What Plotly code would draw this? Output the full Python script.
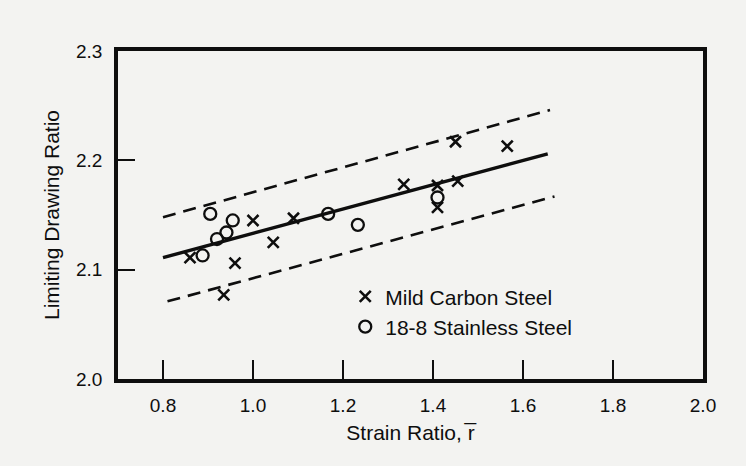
import plotly.graph_objects as go

# Mild carbon steel (X markers)
carbon_r = [0.86, 0.935, 0.96, 1.0, 1.045, 1.09, 1.335, 1.41, 1.41, 1.45, 1.455, 1.565]
carbon_ldr = [2.111, 2.077, 2.106, 2.145, 2.125, 2.147, 2.178, 2.177, 2.157, 2.217, 2.181, 2.213]

# 18-8 stainless steel (O markers)
stainless_r = [0.888, 0.905, 0.92, 0.941, 0.955, 1.167, 1.233, 1.41]
stainless_ldr = [2.113, 2.151, 2.128, 2.134, 2.145, 2.151, 2.141, 2.166]

# Trend line and scatter band
fit_r = [0.80, 1.655]
fit_ldr = [2.111, 2.206]
upper_r = [0.80, 1.66]
upper_ldr = [2.148, 2.246]
lower_r = [0.81, 1.67]
lower_ldr = [2.071, 2.167]

x_ticks = [0.8, 1.0, 1.2, 1.4, 1.6, 1.8, 2.0]
x_tick_text = ["0.8", "1.0", "1.2", "1.4", "1.6", "1.8", "2.0"]
y_ticks = [2.0, 2.1, 2.2, 2.3]
y_tick_text = ["2.0", "2.1", "2.2", "2.3"]

INK = "#0e0e0e"
BG = "#f3f3f1"
FONT = "Liberation Sans, Arial, Helvetica, sans-serif"

fig = go.Figure()

fig.add_trace(go.Scatter(x=upper_r, y=upper_ldr, mode="lines", showlegend=False,
                         line=dict(color=INK, width=2.6, dash="13px,8px"), hoverinfo="skip"))
fig.add_trace(go.Scatter(x=lower_r, y=lower_ldr, mode="lines", showlegend=False,
                         line=dict(color=INK, width=2.6, dash="13px,8px"), hoverinfo="skip"))
fig.add_trace(go.Scatter(x=fit_r, y=fit_ldr, mode="lines", showlegend=False,
                         line=dict(color=INK, width=3.4), hoverinfo="skip"))

fig.add_trace(go.Scatter(x=carbon_r, y=carbon_ldr, mode="markers", name="Mild Carbon Steel",
                         marker=dict(symbol="x-thin", size=11, color=INK,
                                     line=dict(color=INK, width=2.6))))
fig.add_trace(go.Scatter(x=stainless_r, y=stainless_ldr, mode="markers", name="18-8 Stainless Steel",
                         marker=dict(symbol="circle-open", size=12, color=INK,
                                     line=dict(color=INK, width=2.3))))

axis_common = dict(
    showline=True, linecolor=INK, linewidth=3.5, mirror=True,
    showgrid=False, zeroline=False,
    ticks="inside", tickcolor=INK, tickwidth=2,
    tickfont=dict(family=FONT, size=19, color=INK),
)

fig.update_layout(
    width=746, height=466,
    margin=dict(l=118, r=43, t=51, b=87),
    paper_bgcolor=BG, plot_bgcolor=BG,
    font=dict(family=FONT, color=INK),
    xaxis=dict(range=[0.7, 2.0], tickvals=x_ticks, ticktext=x_tick_text, ticklen=19,
               ticklabelstandoff=6,
               title=dict(text="Strain Ratio, r\u0305", font=dict(family=FONT, size=21, color=INK),
                          standoff=12),
               **axis_common),
    yaxis=dict(range=[2.0, 2.3], tickvals=y_ticks, ticktext=y_tick_text, ticklen=17,
               ticklabelstandoff=8,
               title=dict(text="Limiting Drawing Ratio", font=dict(family=FONT, size=21, color=INK),
                          standoff=12),
               **axis_common),
    legend=dict(x=(1.205 - 0.7) / 1.3, xref="paper", y=(2.094 - 2.0) / 0.3, yref="paper",
                xanchor="left", yanchor="top",
                bgcolor="rgba(0,0,0,0)", font=dict(family=FONT, size=21, color=INK),
                itemwidth=30, tracegroupgap=0),
)

fig.write_html("out.html")
